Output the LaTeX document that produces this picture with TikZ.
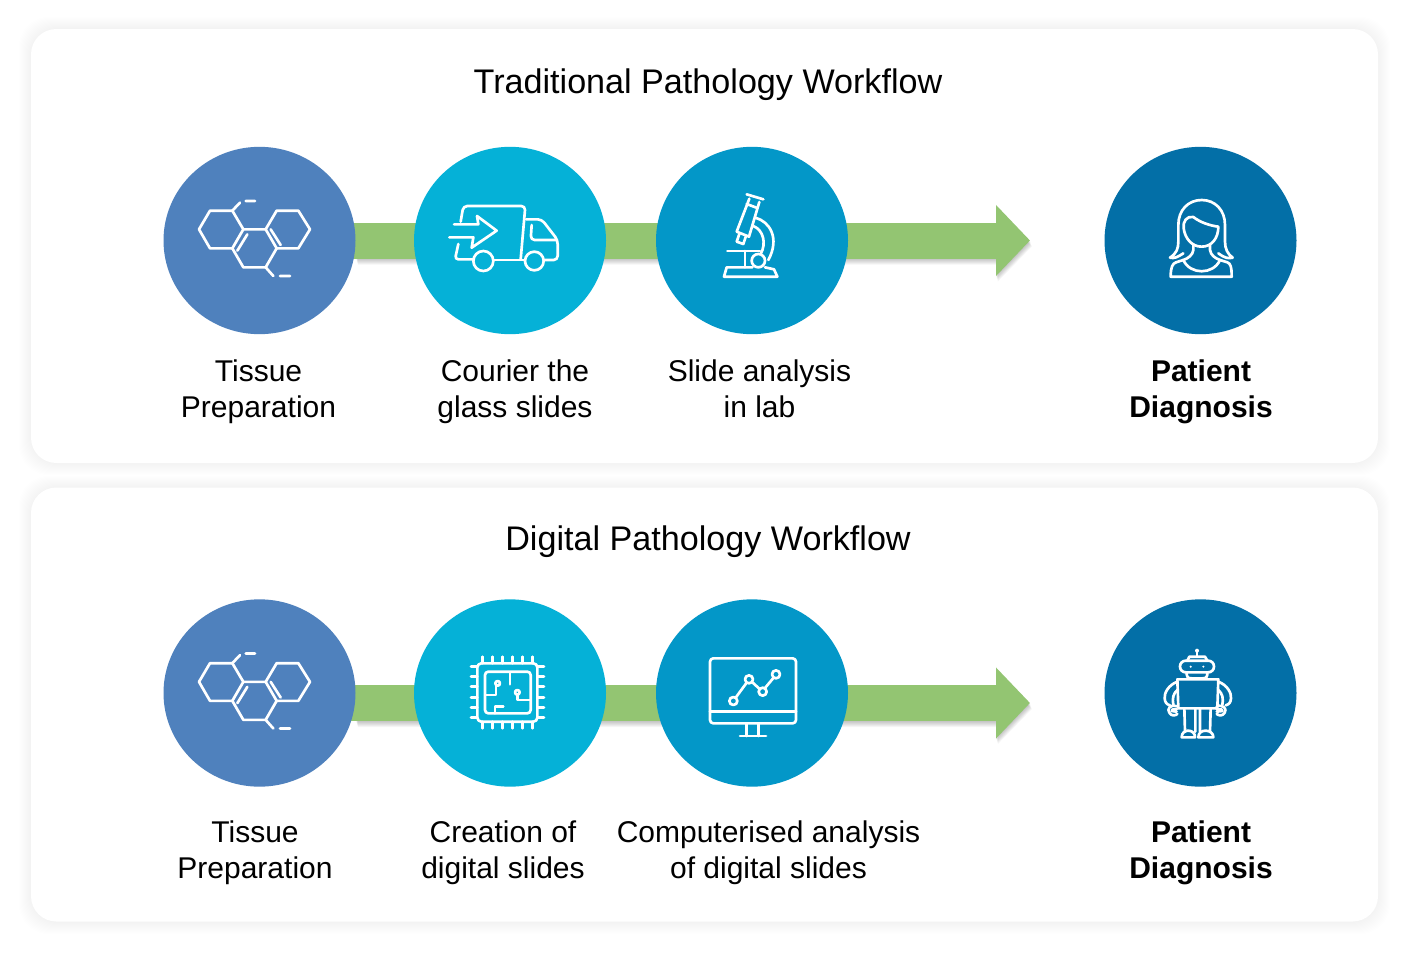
\documentclass[tikz,border=0pt]{standalone}
\usepackage{fontspec}
\setmainfont{Liberation Sans}
\usetikzlibrary{arrows.meta,backgrounds,shapes.geometric}
\definecolor{cone}{HTML}{4F81BD}
\definecolor{ctwo}{HTML}{05B1D7}
\definecolor{cthree}{HTML}{0397C8}
\definecolor{cfour}{HTML}{036FA7}
\definecolor{flowgreen}{HTML}{93C572}
\tikzset{
  panel/.style={rectangle,rounded corners=19pt,fill=white,minimum width=1010.25pt,minimum height=325.5pt,inner sep=0pt},
  disc/.style={ellipse,minimum width=144pt,minimum height=140.5pt,inner sep=0pt},
  title/.style={font=\fontsize{25.6pt}{30pt}\selectfont},
  label/.style={font=\fontsize{22.5pt}{27pt}\selectfont,align=center},
  boldlabel/.style={label,font=\fontsize{22.5pt}{27pt}\selectfont\bfseries},
  flow/.style={draw=flowgreen,line width=27pt,-{Triangle[length=25.5pt,width=51.75pt,fill=flowgreen]}},
  ic/.style={draw=white,line width=2pt,line join=round,line cap=round},
  zoomed/.style={shift={#1},x=.25pt,y=-.25pt},
  molecule/.pic={
    \begin{scope}[zoomed={(160,140)}]
      \draw[ic] (117,268)--(150,212)--(217,212)--(250,268)--(217,325)--(150,325)--cycle;
      \draw[ic] (250,268)--(317,268)--(350,325)--(317,382)--(250,382)--(217,325);
      \draw[ic] (317,268)--(350,212)--(415,212)--(450,268)--(415,325)--(350,325);
      \draw[ic] (262,283)--(232,332) (332,268)--(362,315);
      \draw[ic] (217,212)--(240,188) (257,183)--(285,183);
      \draw[ic] (317,382)--(340,408) (360,408)--(390,408);
    \end{scope}
  }
}
\newcommand{\panelshadow}[1]{%
  \foreach \e in {1,...,12}{
    \fill[black,opacity=.005,rounded corners=22pt] (31-\e,#1-\e) rectangle (1378+\e,#1+434+\e);
  }}
\newcommand{\arrowshadow}[1]{%
  \foreach \d in {1,...,6}{
    \fill[black,opacity=.04] (356+\d*.3,#1-18+\d) -- (996+\d*.3,#1-18+\d) -- (996+\d*.3,#1-35+\d) -- (1030+\d*.3,#1+\d) -- (996+\d*.3,#1+35+\d) -- (996+\d*.3,#1+18+\d) -- (356+\d*.3,#1+18+\d) -- cycle;
  }}
\begin{document}
\begin{tikzpicture}[x=.75pt,y=-.75pt]
\useasboundingbox (0,0) rectangle (1406,960);

% circles
\node[disc,fill=cone]   (a1) at (259.5,240.5) {};
\node[disc,fill=ctwo]   (a2) at (510,240.5) {};
\node[disc,fill=cthree] (a3) at (752,240.5) {};
\node[disc,fill=cfour]  (a4) at (1200.5,240.5) {};
\node[disc,fill=cone]   (b1) at (259.5,693) {};
\node[disc,fill=ctwo]   (b2) at (510,693) {};
\node[disc,fill=cthree] (b3) at (752,693) {};
\node[disc,fill=cfour]  (b4) at (1200.5,693) {};
\coordinate (tipa) at (1030,240.5);
\coordinate (startb) at (259.5,703);
\coordinate (tipb) at (1030,703);

\begin{scope}[on background layer]
  \fill[white] (0,0) rectangle (1406,960);
  \panelshadow{29}
  \panelshadow{488}
  \node[panel] (panela) at (704.5,246) {};
  \node[panel] (panelb) at (704.5,704.5) {};
  \arrowshadow{240.5}
  \arrowshadow{703}
  \draw[flow] (a1.center) -- (tipa);
  \draw[flow] (startb) -- (tipb);
\end{scope}

% titles
\node[title] (ta) at (708,84.5) {Traditional Pathology Workflow};
\node[title] (tb) at (708,542) {Digital Pathology Workflow};

% labels
\node[label] (la1) at (258.5,392) {Tissue\\Preparation};
\node[label] (la2) at (515,392) {Courier the\\glass slides};
\node[label] (la3) at (759.5,389) {Slide analysis\\in lab};
\node[boldlabel] (la4) at (1201,392) {Patient\\Diagnosis};
\node[label] (lb1) at (255,853) {Tissue\\Preparation};
\node[label] (lb2) at (503,853) {Creation of\\digital slides};
\node[label] (lb3) at (768.5,853) {Computerised analysis\\of digital slides};
\node[boldlabel] (lb4) at (1201,853) {Patient\\Diagnosis};

% molecule icons
\pic at (0,0) {molecule};
\pic at (0,452.5) {molecule};

% truck
\begin{scope}[zoomed={(430,180)}]
  \draw[ic,rounded corners=3pt] (92,125)--(100,78)--(286,78)--(272,238);
  \draw[ic,rounded corners=2.5pt] (85,192)--(75,238)--(130,238);
  \draw[ic] (190,240)--(285,240);
  \draw[ic,rounded corners=3pt] (288,118)--(335,118)--(383,180)--(383,240)--(343,240);
  \draw[ic,rounded corners=3pt] (305,135)--(302,180)--(380,180);
  \draw[ic] (160,243) circle[radius=30];
  \draw[ic] (313,243) circle[radius=28];
  \draw[ic] (72,133)--(145,133)--(141,108)--(200,152)--(125,203)--(130,172)--(58,172);
\end{scope}

% microscope
\begin{scope}[zoomed={(700,180)}]
  \draw[ic] (140,43)--(190,58);
  \draw[ic] (148,56)--(110,155)--(147,170)--(178,66);
  \draw[ic] (140,72)--(172,84);
  \draw[ic] (118,162)--(110,185)--(130,192)--(138,168);
  \draw[ic] (166,113) .. controls (210,125) and (240,175) .. (205,240);
  \draw[ic] (160,138) .. controls (190,150) and (200,190) .. (182,222);
  \draw[ic] (82,213)--(180,213);
  \draw[ic] (135,213)--(135,262);
  \draw[ic] (175,242) circle[radius=20];
  \draw[ic] (157,262)--(80,262)--(72,290)--(232,290)--(222,268)--(195,262);
\end{scope}

% woman
\begin{scope}[zoomed={(1150,185)}]
  \draw[ic] (100,205) .. controls (85,215) and (72,222) .. (60,218) .. controls (80,205) and (85,190) .. (85,170) -- (85,120) .. controls (85,75) and (115,45) .. (155,45) .. controls (195,45) and (225,75) .. (225,120) -- (225,170) .. controls (225,190) and (232,207) .. (248,218) .. controls (235,222) and (222,218) .. (205,205);
  \draw[ic] (101,130) .. controls (98,110) and (110,92) .. (130,96) .. controls (150,112) and (180,122) .. (205,125) .. controls (205,160) and (185,185) .. (155,185) .. controls (125,185) and (105,160) .. (101,130);
  \draw[ic] (130,178) -- (130,195) .. controls (128,210) and (115,220) .. (100,225);
  \draw[ic] (180,178) -- (180,195) .. controls (182,210) and (195,220) .. (210,225);
  \draw[ic] (100,225) .. controls (120,270) and (190,270) .. (210,225);
  \draw[ic] (100,225) -- (78,232) .. controls (68,236) and (62,245) .. (62,275) -- (245,275) .. controls (245,245) and (242,236) .. (232,232) -- (210,225);
\end{scope}

% chip
\begin{scope}[zoomed={(460,645)}]
  \draw[ic,rounded corners=3pt] (52,55) rectangle (232,230);
  \draw[ic,rounded corners=2.5pt] (75,80) rectangle (212,205);
  \foreach \p in {68,98,128,158,188,218}{
    \draw[ic] (\p,35)--(\p,55);
    \draw[ic] (\p,230)--(\p,250);
  }
  \foreach \p in {65,95,125,157,187,217}{
    \draw[ic] (33,\p)--(52,\p);
    \draw[ic] (232,\p)--(252,\p);
  }
  \draw[ic] (150,82)--(150,118);
  \draw[ic] (113,115) circle[radius=7];
  \draw[ic] (108,122)--(108,150)--(78,150);
  \draw[ic] (172,142) circle[radius=7];
  \draw[ic] (172,149)--(172,165)--(210,165);
  \draw[ic] (105,205)--(105,185)--(130,185);
\end{scope}

% monitor
\begin{scope}[zoomed={(700,645)}]
  \draw[ic,rounded corners=2.5pt] (30,40) rectangle (288,235);
  \draw[ic] (30,200)--(288,200);
  \draw[ic] (140,235)--(140,273) (175,235)--(175,273) (120,273)--(198,273);
  \draw[ic] (100,168) circle[radius=12] (147,103) circle[radius=12] (188,140) circle[radius=12] (228,88) circle[radius=12];
  \draw[ic] (107,158)--(140,113) (156,111)--(179,132) (195,129)--(221,98);
\end{scope}

% robot
\begin{scope}[zoomed={(1150,640)}]
  \fill[white] (141,32) circle[radius=6];
  \draw[ic] (141,32)--(141,50);
  \draw[ic] (112,62)--(118,50)--(165,50)--(172,62);
  \draw[ic,rounded corners=4.3pt] (90,62) rectangle (192,97);
  \fill[white] (122,80) circle[radius=3.5] (160,80) circle[radius=3.5];
  \draw[ic] (110,97) .. controls (110,110) and (112,115) .. (125,115) -- (158,115) .. controls (170,115) and (172,110) .. (172,97);
  \draw[ic] (82,118)--(205,118)--(202,205)--(85,205)--cycle;
  \draw[ic] (103,205)--(105,275) (136,205)--(136,275) (150,205)--(150,275) (182,205)--(180,275);
  \draw[ic] (95,292) .. controls (95,278) and (105,272) .. (115,272) .. controls (127,272) and (135,280) .. (135,292) -- cycle;
  \draw[ic] (145,292) .. controls (145,278) and (155,272) .. (167,272) .. controls (180,272) and (190,280) .. (190,292) -- cycle;
  \draw[ic] (82,125) .. controls (55,135) and (42,160) .. (44,175) .. controls (45,188) and (50,193) .. (60,196);
  \draw[ic] (82,150) .. controls (70,160) and (66,175) .. (70,195);
  \draw[ic] (80,199) .. controls (60,192) and (50,208) .. (58,218) .. controls (63,228) and (75,228) .. (82,222);
  \draw[ic] (80,208)--(68,208)--(65,213)--(80,215);
  \draw[ic] (205,125) .. controls (232,135) and (245,160) .. (243,175) .. controls (242,188) and (237,193) .. (227,196);
  \draw[ic] (205,150) .. controls (217,160) and (221,175) .. (217,195);
  \draw[ic] (200,199) .. controls (220,192) and (232,208) .. (224,218) .. controls (219,228) and (207,228) .. (200,222);
  \draw[ic] (200,208)--(214,208)--(217,213)--(200,215);
\end{scope}
\end{tikzpicture}
\end{document}
